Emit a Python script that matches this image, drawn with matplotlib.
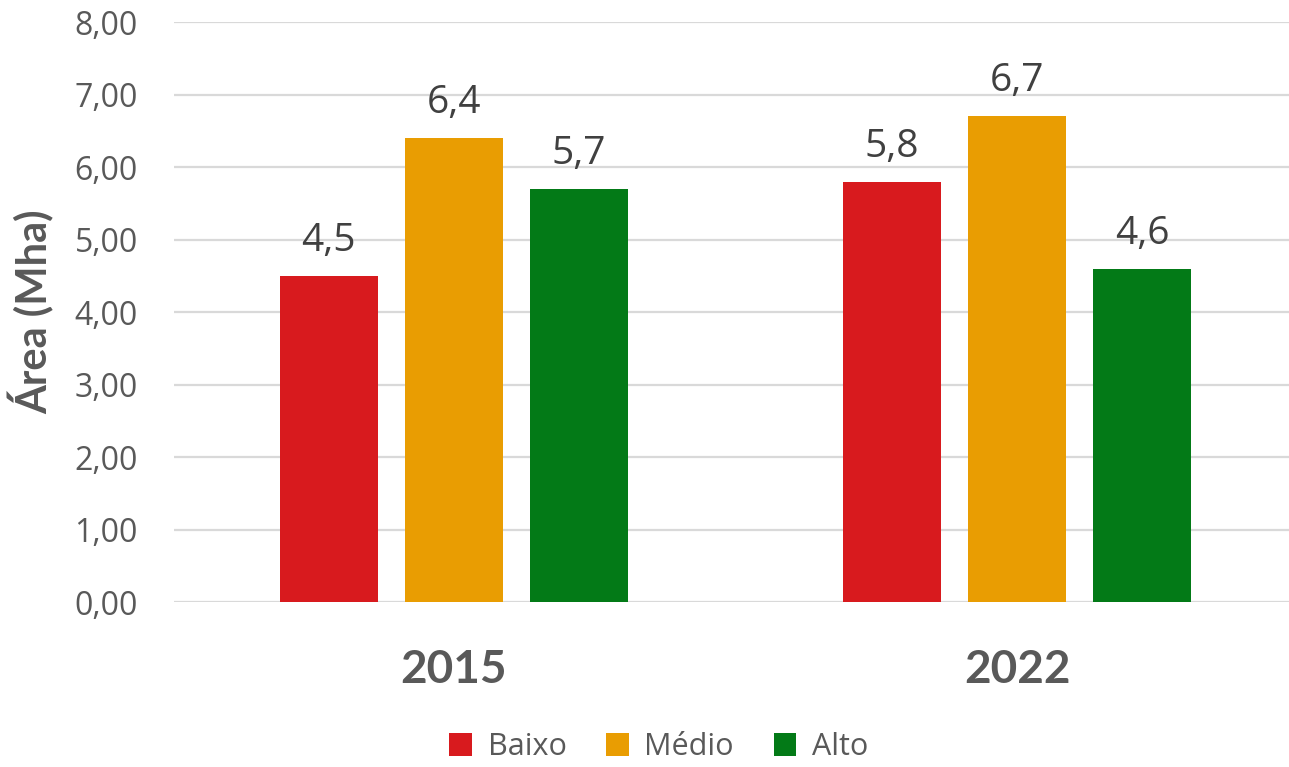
import matplotlib
matplotlib.use("Agg")
import matplotlib.pyplot as plt
import numpy as np

plt.rcParams['font.family'] = ['Open Sans', 'DejaVu Sans']

anos = ['2015', '2022']
classes = ['Baixo', 'Médio', 'Alto']
baixo = [4.5, 5.8]
medio = [6.4, 6.7]
alto = [5.7, 4.6]
cores = ['#D81A1E', '#E99D02', '#037A17']

cinza = '#595959'

fig = plt.figure(figsize=(12.89, 7.67), dpi=100)
ax = fig.add_axes([0.135, 0.2151, 0.865, 0.7562])

x = np.arange(len(anos))
largura = 0.175
passo = 0.222

for i, (serie, cor, nome) in enumerate(zip([baixo, medio, alto], cores, classes)):
    pos = x + (i - 1) * passo
    barras = ax.bar(pos, serie, width=largura, color=cor, label=nome, zorder=3)
    for b, v in zip(barras, serie):
        ax.annotate(f'{v:.1f}'.replace('.', ','),
                    (b.get_x() + b.get_width() / 2, v),
                    xytext=(0, 18), textcoords='offset points',
                    ha='center', va='baseline', fontsize=28, color='#404040')

ax.set_ylim(0, 8)
ax.set_xlim(-0.497, 1.483)
ax.set_yticks(np.arange(0, 9, 1))
ax.set_yticklabels([f'{v:.2f}'.replace('.', ',') for v in np.arange(0, 9, 1)],
                   fontsize=23, color=cinza)
ax.set_xticks(x)
ax.set_xticklabels(anos, fontsize=33, fontweight='bold', color=cinza, family='Lato')
ax.tick_params(axis='both', length=0)
ax.tick_params(axis='y', pad=26)
ax.tick_params(axis='x', pad=34)

ax.yaxis.grid(True, color='#D9D9D9', linewidth=1.6, zorder=0)
for s in ax.spines.values():
    s.set_visible(False)

ax.set_ylabel('Área (Mha)', fontsize=30, fontweight='bold', color=cinza, family='Lato')
ax.yaxis.set_label_coords(-0.107, 0.5)

# legenda no rodapé
leg = fig.legend(loc='center', bbox_to_anchor=(0.511, 0.026), ncol=3, frameon=False,
                 fontsize=22, handlelength=0.75, handleheight=0.75, handletextpad=0.5,
                 columnspacing=1.3, borderaxespad=0, borderpad=0)
for t in leg.get_texts():
    t.set_color(cinza)

fig.savefig('out.png', dpi=100, facecolor='white')
